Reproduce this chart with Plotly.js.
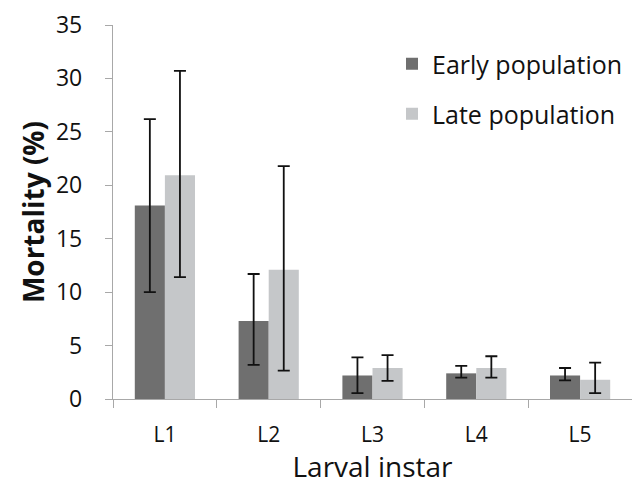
<!DOCTYPE html>
<html><head><meta charset="utf-8">
<script src="https://cdn.plot.ly/plotly-3.0.1.min.js"></script>
<style>html,body{margin:0;padding:0;background:#fff}#chart{width:632px;height:485px}</style>
</head><body><div id="chart"></div>
<script>
const categories = ["L1","L2","L3","L4","L5"];
const earlyMean = [18.1, 7.3, 2.2, 2.4, 2.2];
const earlyUpper = [26.2, 11.7, 3.9, 3.1, 2.9];
const earlyLower = [10.0, 3.2, 0.55, 2.0, 1.75];
const lateMean = [20.95, 12.1, 2.9, 2.9, 1.8];
const lateUpper = [30.7, 21.8, 4.1, 4.0, 3.4];
const lateLower = [11.4, 2.65, 1.7, 2.0, 0.55];
const yTicks = [0,5,10,15,20,25,30,35];

const FONT = "'Open Sans', sans-serif";
function err(mean, up, lo){
  return {type:'data', symmetric:false,
    array: mean.map((m,i)=>up[i]-m), arrayminus: mean.map((m,i)=>m-lo[i]),
    color:'#111', thickness:1.8, width:6};
}
const traces = [
  {type:'bar', name:'Early population', x:categories, y:earlyMean,
   marker:{color:'#6f6f6f'}, error_y: err(earlyMean, earlyUpper, earlyLower), legend:'legend'},
  {type:'bar', name:'Late population', x:categories, y:lateMean,
   marker:{color:'#c5c7c9'}, error_y: err(lateMean, lateUpper, lateLower), legend:'legend2'}
];
const legendBase = {bgcolor:'rgba(0,0,0,0)', font:{family:FONT, size:25, color:'#111'},
  xanchor:'left', yanchor:'middle', itemwidth:30};
const layout = {
  width:632, height:485,
  margin:{l:113, r:0, t:25, b:86},
  paper_bgcolor:'#fff', plot_bgcolor:'#fff',
  barmode:'group', bargap:0.42, bargroupgap:0,
  showlegend:true,
  legend:Object.assign({x:(392-113)/519, y:(399-64)/374}, legendBase),
  legend2:Object.assign({x:(392-113)/519, y:(399-114)/374}, legendBase),
  xaxis:{type:'category', tickson:'boundaries', ticks:'outside', ticklen:8, tickcolor:'#a8a8a8',
    showline:true, linecolor:'#a8a8a8', linewidth:1.2, showgrid:false,
    ticklabelstandoff:17,
    tickfont:{family:FONT, size:21, color:'#111'},
    title:{text:'Larval instar', font:{family:FONT, size:28, color:'#111'}, standoff:2}},
  yaxis:{range:[0,35], tickvals:yTicks, ticks:'outside', ticklen:7, tickcolor:'#a8a8a8',
    showline:true, linecolor:'#a8a8a8', linewidth:1.2, showgrid:false, zeroline:false,
    ticklabelstandoff:18,
    tickfont:{family:FONT, size:23, color:'#111'},
    title:{text:'<b>Mortality (%)</b>', font:{family:FONT, size:28, color:'#111'}, standoff:3}}
};
Plotly.newPlot('chart', traces, layout, {staticPlot:true, displayModeBar:false});
</script></body></html>
